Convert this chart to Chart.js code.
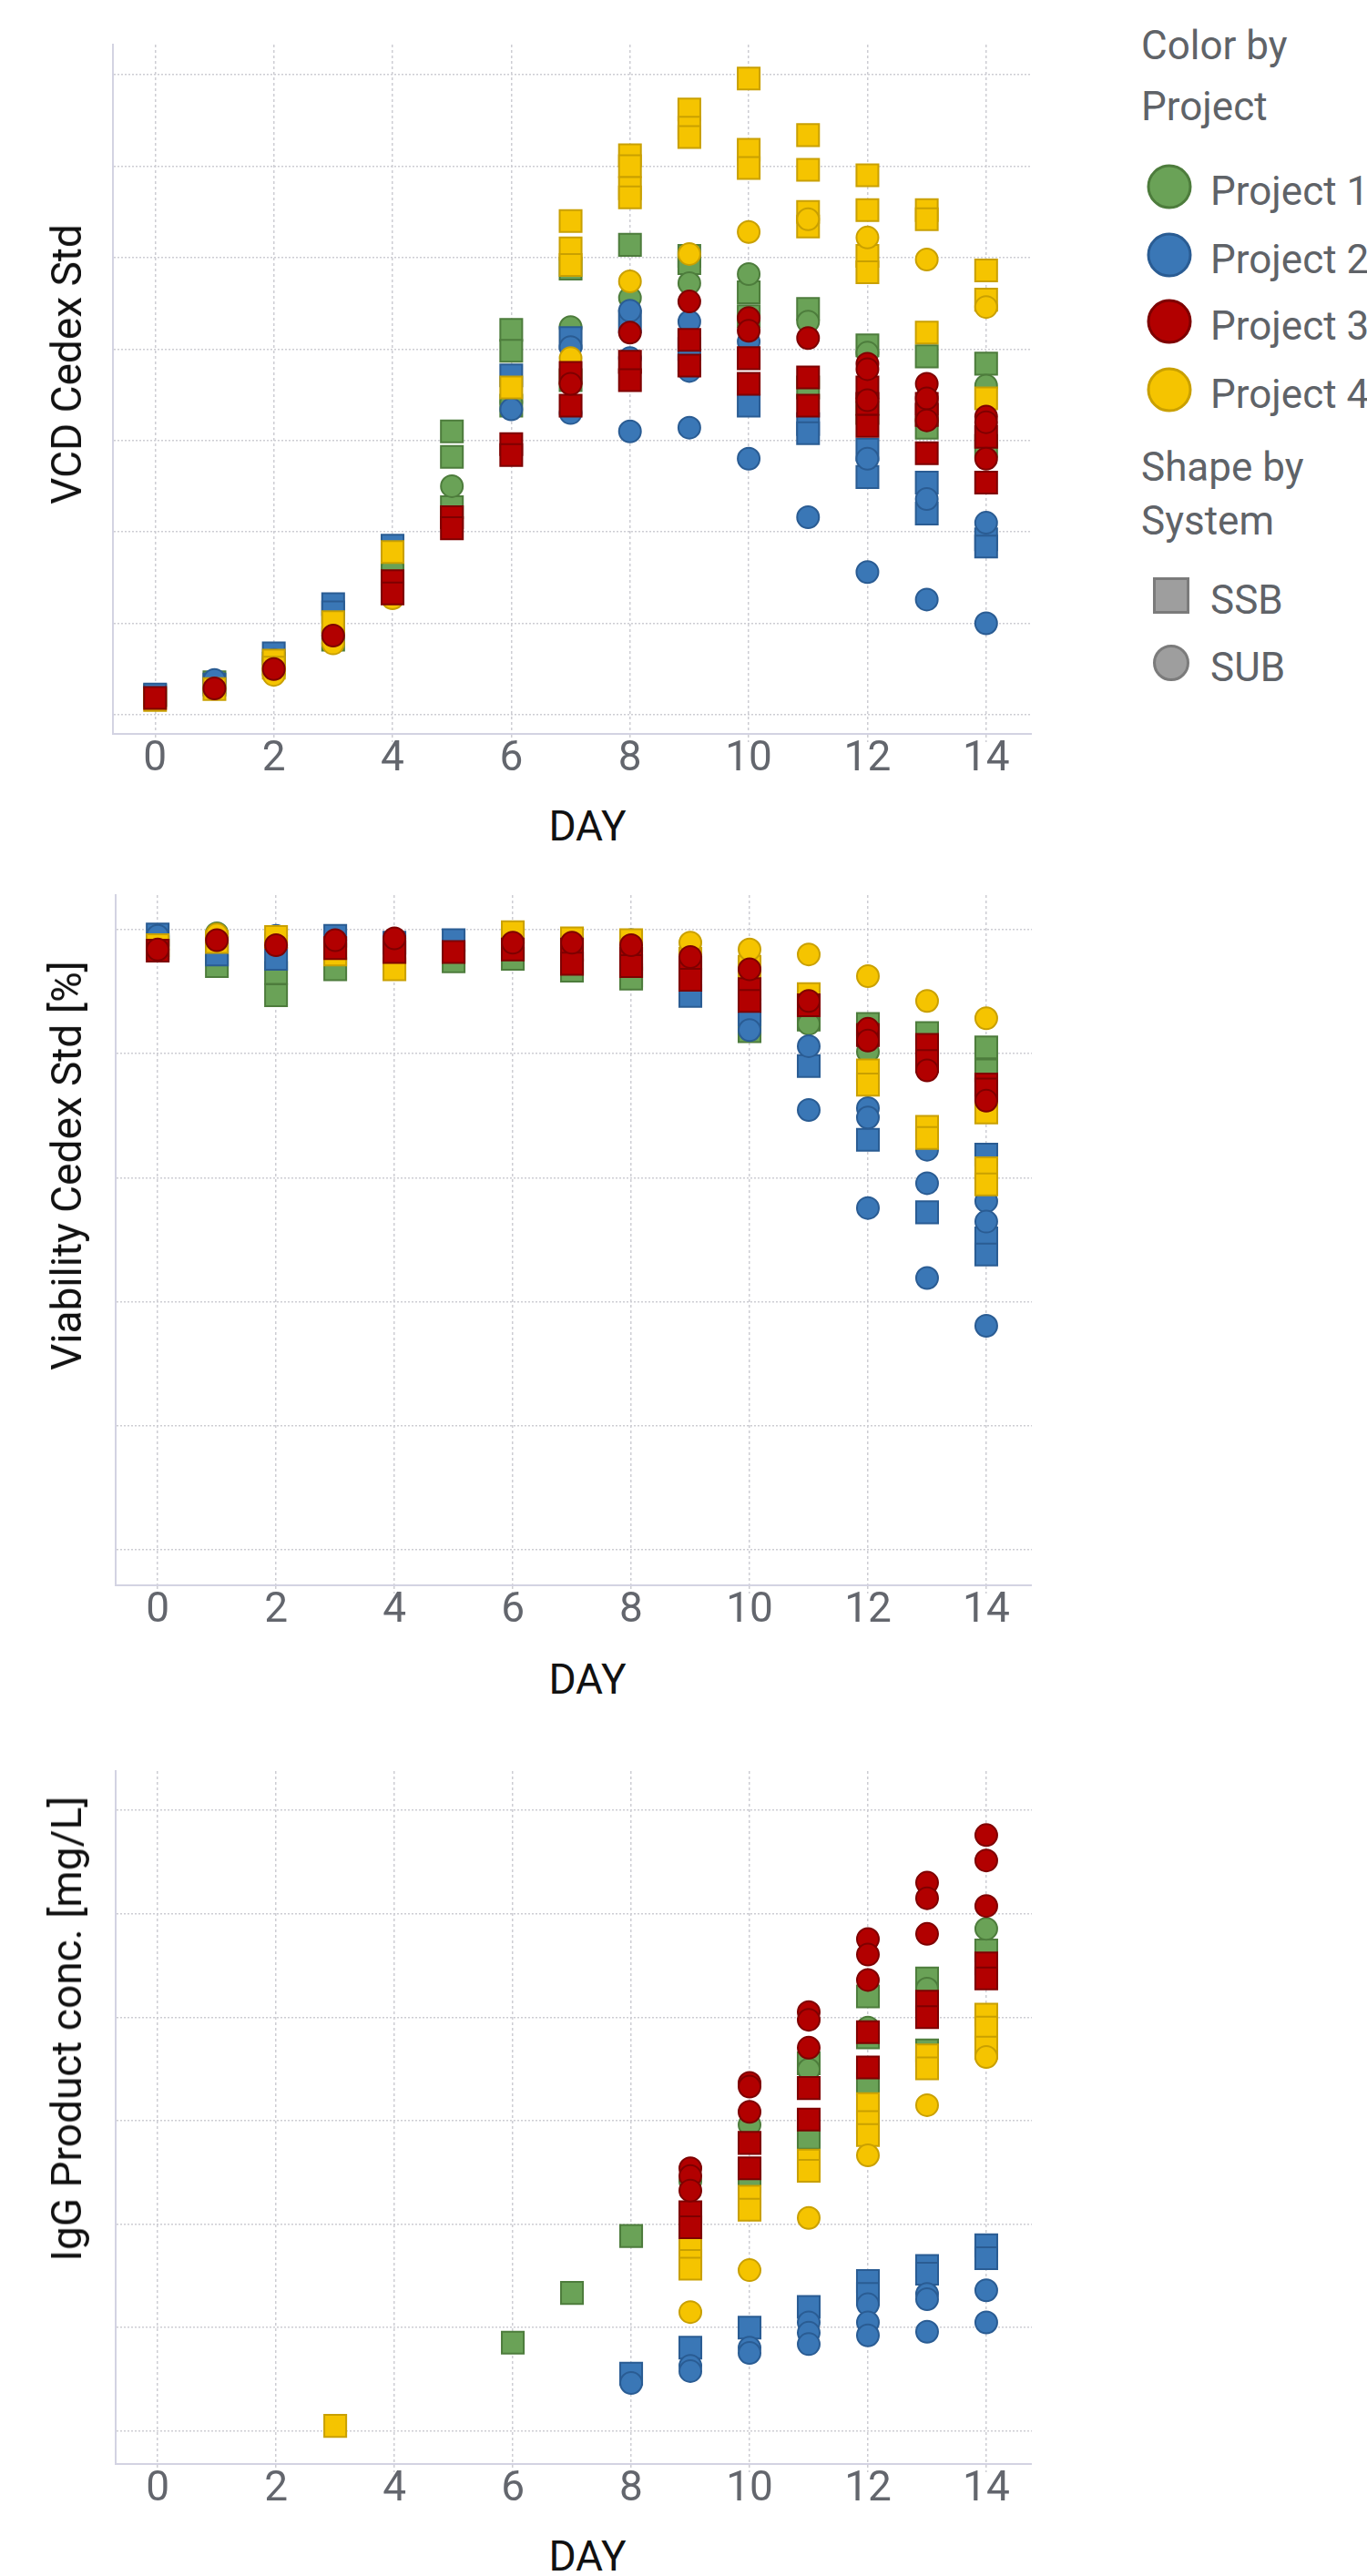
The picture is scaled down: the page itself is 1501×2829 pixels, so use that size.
<!DOCTYPE html>
<html>
<head>
<meta charset="utf-8">
<script src="https://cdn.jsdelivr.net/npm/chart.js@4.4.1/dist/chart.umd.min.js"></script>
<style>
  html, body { margin: 0; padding: 0; background: #fff; }
  body { width: 1501px; height: 2829px; position: relative; overflow: hidden; font-family: Roboto, sans-serif; }
  canvas { position: absolute; left: 0; }
  .ytitle { position: absolute; white-space: nowrap; font-size: 46px; line-height: 1; color: #111;
            transform: translate(-50%, -50%) rotate(-90deg); }
  .xtitle { position: absolute; white-space: nowrap; font-size: 46px; line-height: 1; color: #111;
            transform: translate(-50%, -50%); }
  .lg { position: absolute; left: 1253px; font-size: 44px; line-height: 44px; color: #5f6368; white-space: nowrap; }
  .lg.item { left: 1329px; }
  .mark { position: absolute; box-sizing: border-box; border: 3px solid; transform: translate(-50%, -50%); }
</style>
</head>
<body>
<canvas id="vcd" width="1133" height="853" style="top:0px"></canvas>
<canvas id="via" width="1133" height="848" style="top:940px"></canvas>
<canvas id="igg" width="1133" height="853" style="top:1900px"></canvas>

<div class="ytitle" style="left:73px; top:400px">VCD Cedex Std</div>
<div class="ytitle" style="left:73px; top:1280px">Viability Cedex Std [%]</div>
<div class="ytitle" style="left:73px; top:2228px">IgG Product conc. [mg/L]</div>
<div class="xtitle" style="left:645px; top:907px">DAY</div>
<div class="xtitle" style="left:645px; top:1844px">DAY</div>
<div class="xtitle" style="left:645px; top:2807px">DAY</div>

<div id="legend"></div>

<script>
// tick labels / grid values
const dayTicks = [0, 2, 4, 6, 8, 10, 12, 14];
const vcdGrid = [0, 5, 10, 15, 20, 25, 30, 35];
const viaGrid = [0, 20, 40, 60, 80, 100];
const iggGrid = [0, 200, 400, 600, 800, 1000, 1200];

const projects = ["Project 1", "Project 2", "Project 3", "Project 4"];
const systems = ["SSB", "SUB"];

// VCD Cedex Std, [day, value]
const vcdP1Ssb = [[0,1.05],[1,1.78],[2,2.8],[3,4.1],[4,7.7],[5,15.5],[5,14.1],[5,11.35],[6,21.05],[6,19.9],[6,16.9],[7,24.4],[7,18.3],[8,25.7],[9,25.1],[9,24.7],[10,23.1],[10,21.8],[11,22.2],[11,17.9],[12,20.2],[12,16.5],[13,19.6],[13,15.7],[14,19.2],[14,14.7]];
const vcdP1Sub = [[4,8.07],[5,12.5],[6,17.1],[7,21.2],[8,22.8],[9,23.6],[10,24.1],[11,21.5],[12,19.8],[14,18.0]];
const vcdP2Ssb = [[0,1.1],[1,1.65],[2,3.36],[3,6.05],[3,5.6],[4,9.25],[6,18.56],[7,20.6],[8,21.5],[9,20.0],[10,16.9],[11,15.9],[11,15.4],[12,14.5],[12,13.0],[13,12.7],[13,11.0],[14,9.6],[14,9.2]];
const vcdP2Sub = [[1,1.9],[2,3.0],[3,4.8],[6,16.7],[7,20.1],[7,16.5],[8,22.1],[8,19.5],[8,15.5],[9,21.5],[9,18.8],[9,15.7],[10,20.4],[10,14.0],[11,10.8],[12,14.0],[12,7.8],[13,11.8],[13,6.3],[14,10.5],[14,5.0]];
const vcdP3Ssb = [[0,0.92],[4,7.3],[4,6.63],[5,10.8],[5,10.2],[6,14.8],[6,14.2],[7,18.7],[7,16.9],[8,19.3],[8,18.3],[9,20.5],[9,19.1],[10,19.5],[10,18.1],[11,18.45],[11,16.9],[12,17.9],[12,17.0],[12,15.8],[13,17.0],[13,16.4],[13,14.3],[14,15.2],[14,12.7]];
const vcdP3Sub = [[1,1.44],[2,2.5],[3,4.33],[7,18.1],[8,20.9],[9,22.6],[10,21.7],[10,21.0],[11,20.6],[12,19.2],[12,18.9],[12,17.2],[13,18.1],[13,17.3],[13,16.1],[14,16.3],[14,16.0],[14,14.0]];
const vcdP4Ssb = [[0,0.8],[1,1.4],[2,2.96],[2,2.57],[3,5.06],[4,8.9],[6,17.9],[7,27.0],[7,25.5],[7,24.6],[8,30.6],[8,30.0],[8,28.8],[8,28.3],[9,33.1],[9,32.1],[9,31.6],[10,34.8],[10,30.9],[10,29.9],[11,31.7],[11,29.8],[11,27.5],[11,26.7],[12,29.5],[12,27.6],[12,25.1],[12,24.2],[13,27.6],[13,27.1],[13,20.9],[14,24.3],[14,22.7],[14,17.3]];
const vcdP4Sub = [[2,2.18],[3,3.9],[4,6.37],[7,19.5],[8,23.7],[9,25.2],[10,26.4],[11,27.1],[12,26.1],[13,24.9],[14,22.3]];

// Viability Cedex Std [%]
const viaP1Ssb = [[0,97.0],[1,94.1],[2,93.0],[2,89.4],[3,93.6],[5,94.9],[6,95.3],[7,93.4],[8,92.6],[8,92.1],[10,84.8],[10,83.6],[11,85.5],[12,84.8],[13,83.3],[14,81.0],[14,77.3]];
const viaP1Sub = [[1,99.4],[5,97.5],[9,91.1],[11,84.8],[12,80.3]];
const viaP2Ssb = [[0,99.2],[1,96.0],[2,95.3],[3,99.0],[4,97.9],[5,98.3],[9,89.3],[10,87.0],[10,86.3],[11,78.0],[12,66.1],[13,54.4],[14,63.7],[14,50.2],[14,47.6]];
const viaP2Sub = [[0,99.0],[1,98.8],[2,99.0],[6,99.0],[8,98.3],[10,83.8],[11,81.2],[11,70.9],[12,71.2],[12,69.7],[12,55.1],[13,64.5],[13,59.1],[13,43.8],[14,56.2],[14,52.9],[14,36.1]];
const viaP3Ssb = [[0,96.6],[3,97.0],[4,96.4],[5,96.4],[6,96.8],[7,96.8],[7,94.5],[8,95.3],[8,94.1],[9,93.8],[9,91.9],[10,90.4],[10,88.5],[11,87.8],[12,83.0],[13,81.4],[13,78.8],[14,75.0],[14,74.2]];
const viaP3Sub = [[0,96.8],[1,98.3],[2,97.5],[3,98.3],[4,98.6],[6,97.9],[7,97.9],[8,97.5],[9,95.6],[10,93.6],[11,88.5],[12,84.0],[12,82.1],[13,77.3],[14,72.4]];
const viaP4Ssb = [[0,97.5],[1,98.0],[2,98.8],[3,96.0],[4,93.6],[6,99.6],[7,98.6],[8,98.3],[9,95.3],[10,94.0],[11,89.6],[12,77.3],[12,75.0],[13,68.2],[13,66.4],[14,70.5],[14,61.5],[14,58.9]];
const viaP4Sub = [[1,99.2],[9,97.9],[10,96.8],[11,96.0],[12,92.5],[13,88.5],[14,85.7]];

// IgG Product conc. [mg/L]
const iggP1Ssb = [[6,171],[7,267],[8,377],[10,483],[11,711],[11,567],[12,840],[12,761],[12,671],[13,875],[13,736],[14,929]];
const iggP1Sub = [[9,483],[10,592],[11,699],[12,780],[13,855],[14,971]];
const iggP2Ssb = [[8,111],[9,161],[10,200],[11,240],[12,290],[12,265],[13,319],[13,304],[14,359],[14,334]];
const iggP2Sub = [[8,93],[9,126],[9,116],[10,161],[10,151],[11,210],[11,190],[11,168],[12,245],[12,210],[12,185],[13,265],[13,255],[13,192],[14,272],[14,210]];
const iggP3Ssb = [[9,423],[9,394],[10,557],[10,508],[11,663],[11,602],[12,771],[12,703],[13,830],[13,800],[14,904],[14,875]];
const iggP3Sub = [[9,508],[9,493],[9,465],[10,673],[10,666],[10,617],[11,810],[11,795],[11,741],[12,951],[12,921],[12,872],[13,1060],[13,1030],[13,961],[14,1152],[14,1103],[14,1015]];
const iggP4Ssb = [[3,10],[9,359],[9,329],[9,314],[10,453],[10,428],[11,523],[11,503],[12,632],[12,597],[12,572],[13,726],[13,701],[14,805],[14,780],[14,741]];
const iggP4Sub = [[9,230],[10,311],[11,412],[12,533],[13,630],[14,723]];

// styles
const fills = ["#6aa257", "#3a77b6", "#b20000", "#f5c400"];
const edges = ["#4d7c3c", "#2a5c93", "#7e0000", "#c9a000"];
const gridColor = "#cdcdd3";
const axisColor = "#d3d3e2";

function makeDatasets(series) {
  // series listed bottom to top
  return series.map(([p, s, pairs], i) => ({
    label: projects[p] + " " + systems[s],
    data: pairs.map(([x, y]) => ({ x: x, y: y })),
    pointStyle: s === 0 ? "rect" : "circle",
    pointRadius: s === 0 ? 17 : 12,
    pointHoverRadius: s === 0 ? 17 : 12,
    backgroundColor: fills[p],
    borderColor: edges[p],
    borderWidth: 2,
    order: series.length - i
  }));
}

function makeChart(id, series, yGrid, yMin, yMax, padTop, padLeft) {
  return new Chart(document.getElementById(id), {
    type: "scatter",
    data: { datasets: makeDatasets(series) },
    options: {
      responsive: false,
      animation: false,
      devicePixelRatio: 1,
      events: [],
      layout: { autoPadding: false, padding: { top: padTop, left: padLeft, right: 0, bottom: 0 } },
      plugins: { legend: { display: false }, tooltip: { enabled: false } },
      scales: {
        x: {
          type: "linear",
          min: -0.71,
          max: 14.77,
          afterBuildTicks: (scale) => { scale.ticks = dayTicks.map((v) => ({ value: v })); },
          grid: { color: gridColor, lineWidth: 1.5, tickLength: 9, tickColor: gridColor, tickBorderDash: [3, 3] },
          border: { display: true, color: axisColor, width: 2, dash: [3, 3] },
          ticks: { color: "#63666d", font: { family: "Roboto", size: 46, lineHeight: 1 }, padding: -4, maxRotation: 0, autoSkip: false }
        },
        y: {
          type: "linear",
          min: yMin,
          max: yMax,
          afterBuildTicks: (scale) => { scale.ticks = yGrid.map((v) => ({ value: v })); },
          grid: { color: gridColor, lineWidth: 1.5, drawTicks: false, tickLength: 0 },
          border: { display: true, color: axisColor, width: 2, dash: [2, 2] },
          ticks: { display: false }
        }
      }
    }
  });
}

makeChart("vcd", [
  [0, 0, vcdP1Ssb], [0, 1, vcdP1Sub], [1, 0, vcdP2Ssb], [1, 1, vcdP2Sub],
  [3, 0, vcdP4Ssb], [3, 1, vcdP4Sub], [2, 0, vcdP3Ssb], [2, 1, vcdP3Sub]
], vcdGrid, -1.05, 36.65, 49, 124);

makeChart("via", [
  [0, 0, viaP1Ssb], [0, 1, viaP1Sub], [1, 0, viaP2Ssb], [1, 1, viaP2Sub],
  [3, 0, viaP4Ssb], [3, 1, viaP4Sub], [2, 0, viaP3Ssb], [2, 1, viaP3Sub]
], viaGrid, -5.76, 105.57, 43, 127);

makeChart("igg", [
  [0, 0, iggP1Ssb], [0, 1, iggP1Sub], [1, 0, iggP2Ssb], [1, 1, iggP2Sub],
  [3, 0, iggP4Ssb], [3, 1, iggP4Sub], [2, 0, iggP3Ssb], [2, 1, iggP3Sub]
], iggGrid, -63.7, 1275.8, 45, 127);

// legend on the right
const legend = document.getElementById("legend");
function addText(text, top, cls) {
  const d = document.createElement("div");
  d.className = cls;
  d.style.top = top + "px";
  d.textContent = text;
  legend.appendChild(d);
}
function addMark(cx, cy, size, fill, edge, round) {
  const m = document.createElement("div");
  m.className = "mark";
  m.style.left = cx + "px";
  m.style.top = cy + "px";
  m.style.width = size + "px";
  m.style.height = size + "px";
  m.style.background = fill;
  m.style.borderColor = edge;
  m.style.borderRadius = round ? "50%" : "0";
  legend.appendChild(m);
}
addText("Color by", 28, "lg");
addText("Project", 95, "lg");
const itemY = [205, 280, 353, 428];
projects.forEach((p, i) => {
  addMark(1284, itemY[i], 49, fills[i], edges[i], true);
  addText(p, itemY[i] - 17, "lg item");
});
addText("Shape by", 491, "lg");
addText("System", 550, "lg");
addMark(1286, 654, 40, "#9e9e9e", "#7b7b7b", false);
addText("SSB", 637, "lg item");
addMark(1286, 728, 40, "#9e9e9e", "#7b7b7b", true);
addText("SUB", 711, "lg item");
</script>
</body>
</html>
